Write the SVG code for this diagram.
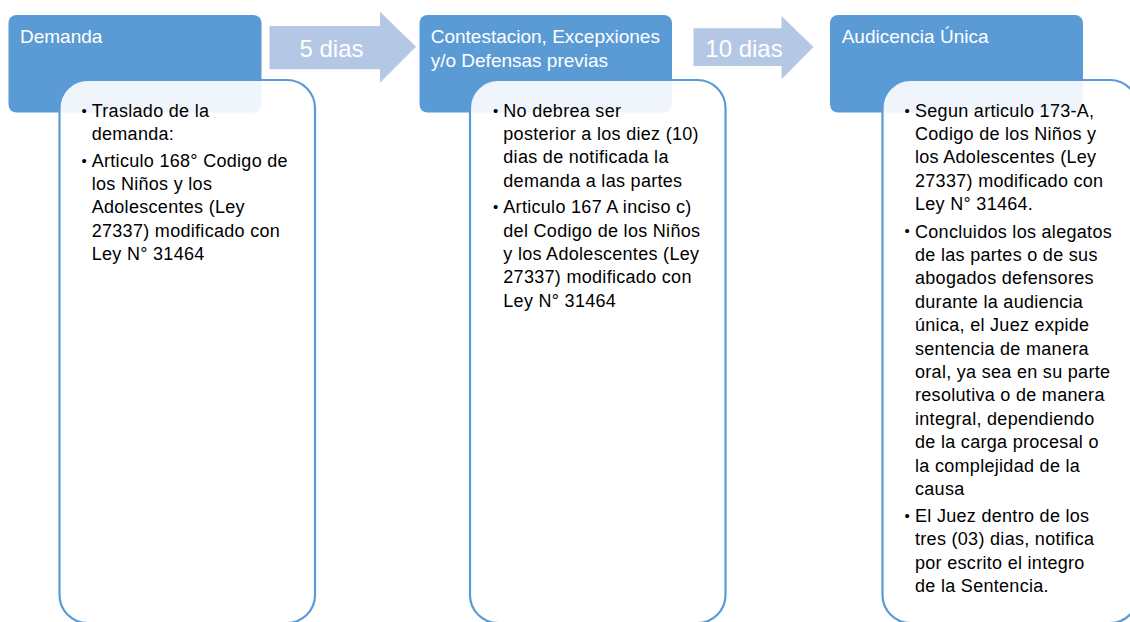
<svg xmlns="http://www.w3.org/2000/svg" width="1130" height="622" viewBox="0 0 1130 622">
  <style>
    .hdr { fill: #5B9BD5; }
    .hdrtxt { fill: #FFFFFF; font-family: "Liberation Sans", Arial, sans-serif; font-size: 19px; }
    .card { fill: #FFFFFF; fill-opacity: 0.9; stroke: #5B9BD5; stroke-width: 2.2; }
    .body { fill: #000000; font-family: "Liberation Sans", Arial, sans-serif; font-size: 18px; letter-spacing: 0.3px; }
    .bul { font-size: 15px; }
    .arrow { fill: #B4C8E6; }
    .arrtxt { fill: #FFFFFF; font-family: "Liberation Sans", Arial, sans-serif; font-size: 24px; text-anchor: middle; }
  </style>

  <g id="node-demanda">
    <rect class="hdr" x="8.5" y="15" width="253" height="97.5" rx="8" ry="8"/>
    <text class="hdrtxt" x="20" y="43.3">Demanda</text>
    <rect class="card" x="59.5" y="80" width="255.5" height="543" rx="28" ry="28"/>
    <g class="body">
      <text class="bul" x="81.5" y="115.5">•</text>
      <text x="91.7" y="116.7">Traslado de la</text>
      <text x="91.7" y="140">demanda:</text>
      <text class="bul" x="81.5" y="165.6">•</text>
      <text x="91.7" y="166.8">Articulo 168° Codigo de</text>
      <text x="91.7" y="190.1">los Niños y los</text>
      <text x="91.7" y="213.4">Adolescentes (Ley</text>
      <text x="91.7" y="236.7">27337) modificado con</text>
      <text x="91.7" y="260">Ley N° 31464</text>
    </g>
  </g>

  <g id="node-contestacion">
    <rect class="hdr" x="419.5" y="15" width="252.5" height="97.5" rx="8" ry="8"/>
    <text class="hdrtxt" x="430.7" y="43.3">Contestacion, Excepxiones</text>
    <text class="hdrtxt" x="430.7" y="66.7">y/o Defensas previas</text>
    <rect class="card" x="470" y="80" width="255.5" height="543" rx="28" ry="28"/>
    <g class="body">
      <text class="bul" x="493" y="115.5">•</text>
      <text x="503.3" y="116.7">No debrea ser</text>
      <text x="503.3" y="140">posterior a los diez (10)</text>
      <text x="503.3" y="163.3">dias de notificada la</text>
      <text x="503.3" y="186.6">demanda a las partes</text>
      <text class="bul" x="493" y="212.2">•</text>
      <text x="503.3" y="213.4">Articulo 167 A inciso c)</text>
      <text x="503.3" y="236.7">del Codigo de los Niños</text>
      <text x="503.3" y="260">y los Adolescentes (Ley</text>
      <text x="503.3" y="283.3">27337) modificado con</text>
      <text x="503.3" y="306.6">Ley N° 31464</text>
    </g>
  </g>

  <g id="node-audiencia">
    <rect class="hdr" x="830" y="15" width="253" height="97.5" rx="8" ry="8"/>
    <text class="hdrtxt" x="841.7" y="43.3">Audicencia Única</text>
    <rect class="card" x="882.5" y="80" width="255.5" height="543" rx="28" ry="28"/>
    <g class="body">
      <text class="bul" x="904.5" y="115.5">•</text>
      <text x="915" y="116.7">Segun articulo 173-A,</text>
      <text x="915" y="140">Codigo de los Niños y</text>
      <text x="915" y="163.3">los Adolescentes (Ley</text>
      <text x="915" y="186.6">27337) modificado con</text>
      <text x="915" y="209.9">Ley N° 31464.</text>
      <text class="bul" x="904.5" y="236.4">•</text>
      <text x="915" y="237.6">Concluidos los alegatos</text>
      <text x="915" y="261">de las partes o de sus</text>
      <text x="915" y="284.4">abogados defensores</text>
      <text x="915" y="307.8">durante la audiencia</text>
      <text x="915" y="331.2">única, el Juez expide</text>
      <text x="915" y="354.6">sentencia de manera</text>
      <text x="915" y="378">oral, ya sea en su parte</text>
      <text x="915" y="401.4">resolutiva o de manera</text>
      <text x="915" y="424.8">integral, dependiendo</text>
      <text x="915" y="448.2">de la carga procesal o</text>
      <text x="915" y="471.6">la complejidad de la</text>
      <text x="915" y="495">causa</text>
      <text class="bul" x="904.5" y="520.8">•</text>
      <text x="915" y="522">El Juez dentro de los</text>
      <text x="915" y="545.4">tres (03) dias, notifica</text>
      <text x="915" y="568.8">por escrito el integro</text>
      <text x="915" y="592.2">de la Sentencia.</text>
    </g>
  </g>

  <g id="connectors">
    <g id="arrow-5dias">
      <polygon class="arrow" points="269.5,26 380,26 380,11.7 416,46.8 380,82.7 380,69.3 269.5,69.3"/>
      <text class="arrtxt" x="331.5" y="56.7">5 dias</text>
    </g>
    <g id="arrow-10dias">
      <polygon class="arrow" points="693.5,28.3 781.5,28.3 781.5,16 813.5,47 781.5,79.3 781.5,66 693.5,66"/>
      <text class="arrtxt" x="744" y="56.7">10 dias</text>
    </g>
  </g>
</svg>
